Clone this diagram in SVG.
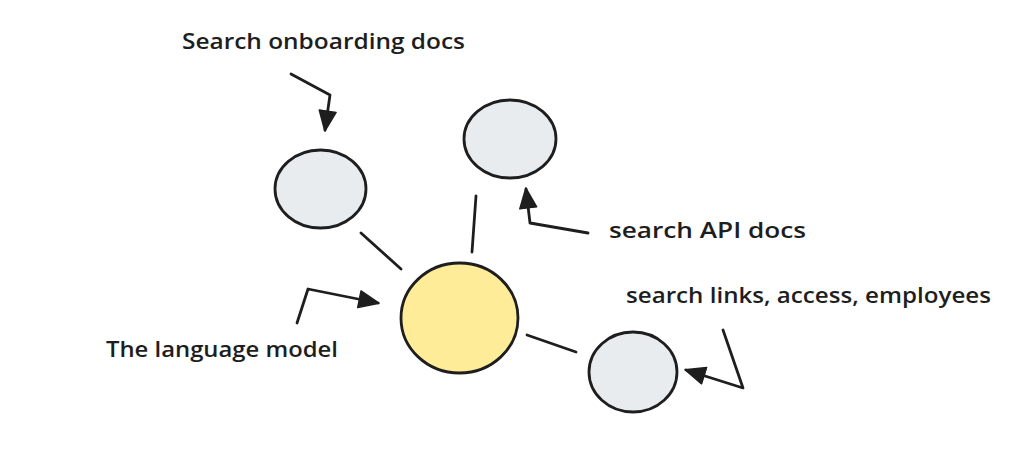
<svg xmlns="http://www.w3.org/2000/svg" width="1024" height="449" viewBox="0 0 1024 449">
<style>
.node{stroke:#1e1e1e;stroke-width:2.8}
.gray{fill:#e9ecef}
.yellow{fill:#ffec99}
.conn{fill:none;stroke:#1e1e1e;stroke-width:2.8;stroke-linecap:round;stroke-linejoin:round}
.lbl{font-family:"Open Sans","Noto Sans",sans-serif;font-size:21px;font-weight:600;fill:#1e1e1e}
</style>
<defs>
<marker id="ah" viewBox="0 0 22 20" refX="20" refY="10" markerWidth="22" markerHeight="20" markerUnits="userSpaceOnUse" orient="auto">
<path d="M1,1.5 L21,10 L1,18.5 Z" fill="#1e1e1e" stroke="#1e1e1e" stroke-width="1.5" stroke-linejoin="round"/>
</marker>
</defs>
<rect width="1024" height="449" fill="#ffffff"/>
<g id="connectors">
<line class="conn" x1="361" y1="233" x2="401" y2="269"/>
<line class="conn" x1="476" y1="196" x2="472" y2="252"/>
<line class="conn" x1="527" y1="335" x2="576" y2="352"/>
<polyline class="conn" points="291,74 330,95 325,130" marker-end="url(#ah)"/>
<polyline class="conn" points="588,233 530,223 526,189" marker-end="url(#ah)"/>
<polyline class="conn" points="297,323 308,289 378,303" marker-end="url(#ah)"/>
<polyline class="conn" points="723,330 743,388 686,370" marker-end="url(#ah)"/>
</g>
<g id="node-onboarding"><ellipse class="node gray" cx="320.5" cy="189" rx="45.5" ry="39"/></g>
<g id="node-api"><ellipse class="node gray" cx="510" cy="139" rx="46" ry="39"/></g>
<g id="node-llm"><ellipse class="node yellow" cx="459.5" cy="318" rx="58.5" ry="55"/></g>
<g id="node-links"><ellipse class="node gray" cx="633" cy="372" rx="44" ry="40"/></g>
<g id="labels">
<text class="lbl" x="182" y="49" textLength="283" lengthAdjust="spacingAndGlyphs">Search onboarding docs</text>
<text class="lbl" x="609" y="238" textLength="197" lengthAdjust="spacingAndGlyphs">search API docs</text>
<text class="lbl" x="626" y="303" textLength="365" lengthAdjust="spacingAndGlyphs">search links, access, employees</text>
<text class="lbl" x="106" y="357" textLength="232" lengthAdjust="spacingAndGlyphs">The language model</text>
</g>
</svg>
